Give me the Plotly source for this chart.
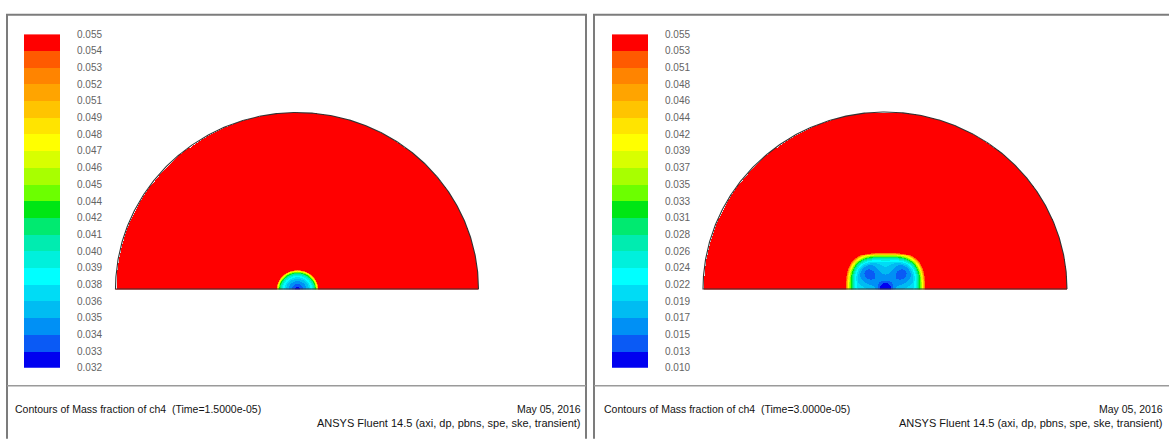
import numpy as np
import plotly.graph_objects as go

W, H = 1169, 439

# ---------------- data ----------------
left_labels = ["0.032", "0.033", "0.034", "0.035", "0.036", "0.038", "0.039", "0.040",
               "0.041", "0.042", "0.044", "0.045", "0.046", "0.047", "0.048", "0.049",
               "0.051", "0.052", "0.053", "0.054", "0.055"]
right_labels = ["0.010", "0.013", "0.015", "0.017", "0.019", "0.022", "0.024", "0.026",
                "0.028", "0.031", "0.033", "0.035", "0.037", "0.039", "0.042", "0.044",
                "0.046", "0.048", "0.051", "0.053", "0.055"]
left_range = [0.032, 0.055]
right_range = [0.010, 0.055]

# band colours, bottom (low) to top (high)
band_colors = ["#0000f0", "#0a5af5", "#0090f5", "#00bcf2", "#00dcf5", "#00ffff",
               "#00f0dc", "#00ecb0", "#00ea70", "#00e614", "#6cff00", "#a8ff00",
               "#d8ff00", "#ffff00", "#ffe400", "#ffc400", "#ffa400", "#ff8400",
               "#ff5a00", "#ff0000"]

# left blob: radial profile (normalised elliptic distance -> mass fraction)
left_blob_axes = [21.0, 19.5]
left_blob_d = [0.0, 0.12, 0.3, 0.5, 0.68, 0.8, 0.88, 0.94, 0.98, 1.0]
left_blob_v = [0.032, 0.033, 0.0345, 0.036, 0.0385, 0.041, 0.044, 0.048, 0.052, 0.055]

# right blob: superellipse profile plus local minima
right_blob_axes = [40.0, 38.0]
right_blob_power = 3.0
right_blob_d = [0.0, 0.68, 0.77, 0.85, 0.9, 0.95, 0.98, 1.0]
right_blob_v = [0.0215, 0.0215, 0.025, 0.031, 0.037, 0.045, 0.051, 0.055]
right_dips_x = [-17.0, 17.0, 0.0, 0.0]
right_dips_y = [16.0, 16.0, 0.0, 3.0]
right_dips_amp = [0.0075, 0.0075, 0.010, 0.0045]
right_dips_sigma = [9.0, 9.0, 4.5, 10.0]

domain_radius = [181.5, 182.0]
domain_center_px = [297.0, 885.0]
domain_base_px = 291.0

footer_left = "Contours of Mass fraction of ch4  (Time=1.5000e-05)"
footer_right = "Contours of Mass fraction of ch4  (Time=3.0000e-05)"
footer_date = "May 05, 2016"
footer_solver = "ANSYS Fluent 14.5 (axi, dp, pbns, spe, ske, transient)"

# ---------------- helpers ----------------
def px(x):
    return x / W

def py(y):
    return 1 - y / H

n = len(band_colors)
colorscale = []
for k, c in enumerate(band_colors):
    colorscale.append([k / n, c])
    colorscale.append([(k + 1) / n, c])

def grid(R):
    xs = np.arange(-np.floor(R), np.floor(R) + 1, 1.0)
    ys = np.arange(0.0, np.floor(R) + 1, 1.0)
    X, Y = np.meshgrid(xs, ys)
    return xs, ys, X, Y

def to_list(Z):
    Z = np.round(Z, 6)
    return [[None if np.isnan(v) else float(v) for v in row] for row in Z]

# left field
R0 = domain_radius[0]
xs0, ys0, X0, Y0 = grid(R0)
d0 = np.sqrt((X0 / left_blob_axes[0]) ** 2 + (Y0 / left_blob_axes[1]) ** 2)
Z0 = np.interp(d0, left_blob_d, left_blob_v, right=left_range[1])
Z0[np.sqrt(X0 ** 2 + Y0 ** 2) > R0 - 0.5] = np.nan

# right field
R1 = domain_radius[1]
xs1, ys1, X1, Y1 = grid(R1)
p = right_blob_power
d1 = ((np.abs(X1) / right_blob_axes[0]) ** p + (Y1 / right_blob_axes[1]) ** p) ** (1 / p)
Z1 = np.interp(d1, right_blob_d, right_blob_v, right=right_range[1])
for cx, cy, a, s in zip(right_dips_x, right_dips_y, right_dips_amp, right_dips_sigma):
    Z1 = Z1 - a * np.exp(-((X1 - cx) ** 2 + (Y1 - cy) ** 2) / (2 * s * s))
Z1 = np.maximum(Z1, right_range[0])
Z1[np.sqrt(X1 ** 2 + Y1 ** 2) > R1 - 0.5] = np.nan

fig = go.Figure()

font_family = "Liberation Sans, Arial, sans-serif"

def add_field(xs, ys, Z, rng, R, xa, ya):
    fig.add_trace(go.Heatmap(x=xs, y=ys, z=to_list(Z), zmin=rng[0], zmax=rng[1],
                             colorscale=colorscale, showscale=False, hoverinfo="skip",
                             xaxis=xa, yaxis=ya))
    t = np.linspace(0, np.pi, 400)
    ox = np.concatenate([R * np.cos(t), [R]])
    oy = np.concatenate([R * np.sin(t), [0.0]])
    fig.add_trace(go.Scatter(x=ox, y=oy, mode="lines", line=dict(color="#333333", width=1.1),
                             hoverinfo="skip", showlegend=False, xaxis=xa, yaxis=ya,
                             cliponaxis=False))

def add_bar(labels, xa, ya):
    z = [[k] for k in range(n)]
    fig.add_trace(go.Heatmap(x=[0, 1], y=list(range(n + 1)), z=z, zmin=0, zmax=n,
                             colorscale=colorscale, showscale=False, hoverinfo="skip",
                             xaxis=xa, yaxis=ya))

add_field(xs0, ys0, Z0, left_range, R0, "x", "y")
add_field(xs1, ys1, Z1, right_range, R1, "x2", "y2")
add_bar(left_labels, "x3", "y3")
add_bar(right_labels, "x4", "y4")

pad = 8
def field_axes(cx, R):
    xd = [px(cx - R - pad), px(cx + R + pad)]
    xr = [-R - pad, R + pad]
    yd = [py(domain_base_px + pad), py(domain_base_px - R - pad)]
    yr = [-pad, R + pad]
    return xd, xr, yd, yr

hidden = dict(visible=False, showgrid=False, zeroline=False, fixedrange=True)

xd, xr, yd, yr = field_axes(domain_center_px[0], R0)
fig.update_layout(xaxis=dict(domain=xd, range=xr, anchor="y", **hidden),
                  yaxis=dict(domain=yd, range=yr, anchor="x", **hidden))
xd, xr, yd, yr = field_axes(domain_center_px[1], R1)
fig.update_layout(xaxis2=dict(domain=xd, range=xr, anchor="y2", **hidden),
                  yaxis2=dict(domain=yd, range=yr, anchor="x2", **hidden))

bar_top, bar_bot = 29.0, 372.0
def bar_axes(x0, x1, labels, anchor):
    xa = dict(domain=[px(x0), px(x1)], range=[0, 1], anchor=anchor[1], **hidden)
    ya = dict(domain=[py(bar_bot), py(bar_top)], range=[0, n], anchor=anchor[0],
              side="right", showgrid=False, zeroline=False, showline=False, ticks="",
              tickvals=list(range(n + 1)), ticktext=labels, ticklabelstandoff=16,
              tickfont=dict(family=font_family, size=10, color="#646464"), fixedrange=True)
    return xa, ya

xa3, ya3 = bar_axes(24, 60, left_labels, ("x3", "y3"))
xa4, ya4 = bar_axes(612, 648, right_labels, ("x4", "y4"))
fig.update_layout(xaxis3=xa3, yaxis3=ya3, xaxis4=xa4, yaxis4=ya4)

# frames
shapes = []
frame_col = "#7c7c7c"
def seg(x0, y0, x1, y1, col=frame_col, w=2):
    shapes.append(dict(type="line", xref="paper", yref="paper", x0=px(x0), y0=py(y0),
                       x1=px(x1), y1=py(y1), line=dict(color=col, width=w)))
seg(7, 9, 7, 445)
seg(6, 9, 587, 9)
seg(586, 9, 586, 445)
seg(594, 9, 594, 445)
seg(593, 9, 1175, 9)
seg(7, 390.5, 586, 390.5, "#9a9a9a", 1.5)
seg(594, 390.5, 1169, 390.5, "#9a9a9a", 1.5)

annotations = []
def txt(x, y, s, anchor, size):
    annotations.append(dict(xref="paper", yref="paper", x=px(x), y=py(y), text=s,
                            showarrow=False, xanchor=anchor, yanchor="middle",
                            font=dict(family=font_family, size=size, color="#141414")))
txt(13, 414, footer_left, "left", 10.5)
txt(583, 414, footer_date, "right", 10.5)
txt(583, 429, footer_solver, "right", 11)
txt(602, 414, footer_right, "left", 10.5)
txt(1165, 414, footer_date, "right", 10.5)
txt(1165, 429, footer_solver, "right", 11)

fig.update_layout(width=W, height=H, margin=dict(l=0, r=0, t=0, b=0),
                  paper_bgcolor="white", plot_bgcolor="rgba(0,0,0,0)",
                  showlegend=False, shapes=shapes, annotations=annotations)

fig.write_html("out.html")
